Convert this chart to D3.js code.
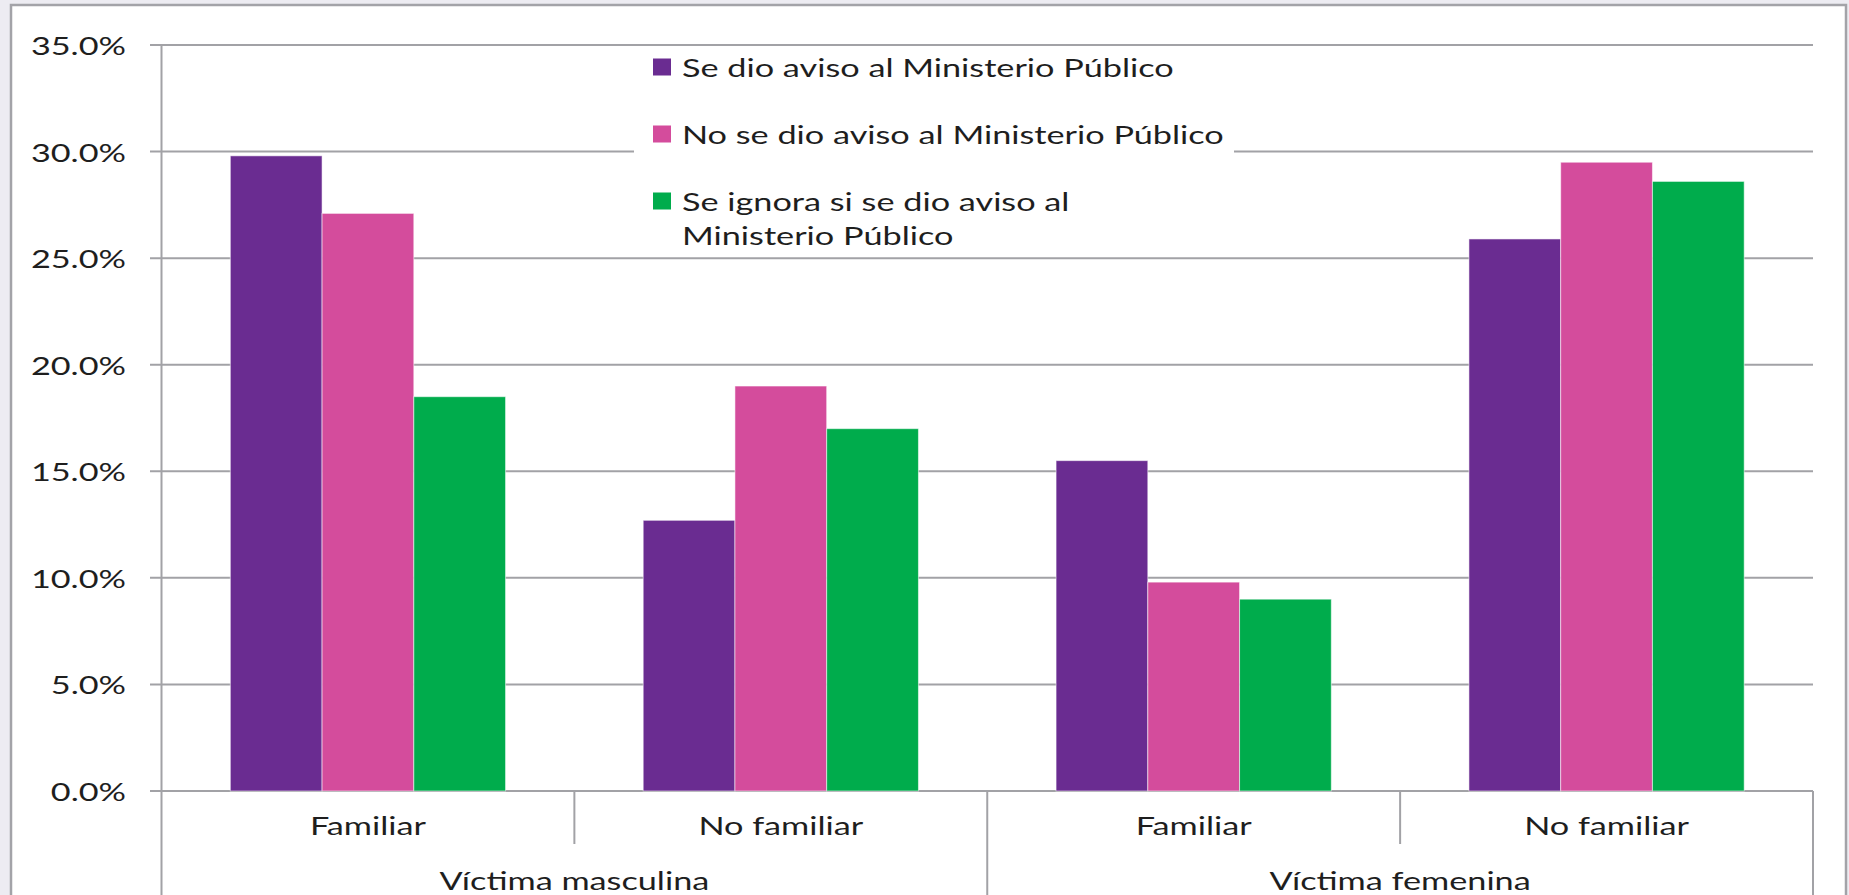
<!DOCTYPE html>
<html lang="es">
<head>
<meta charset="UTF-8">
<title>Aviso al Ministerio Público</title>
<script src="https://d3js.org/d3.v7.min.js"></script>
<style>
  body { margin: 0; background: #edecf2; }
  svg { display: block; }
  text { font-family: Lato, "Open Sans", sans-serif; fill: #1e1e1e; }
</style>
</head>
<body>
<svg id="chart" width="1849" height="895"></svg>
<script>
// datos (%)
const categorias = ["Familiar", "No familiar", "Familiar", "No familiar"];
const grupos = ["Víctima masculina", "Víctima femenina"];
const series = ["Se dio aviso al Ministerio Público",
                "No se dio aviso al Ministerio Público",
                "Se ignora si se dio aviso al Ministerio Público"];
const leyendaLineas = [["Se dio aviso al Ministerio Público"],
                       ["No se dio aviso al Ministerio Público"],
                       ["Se ignora si se dio aviso al", "Ministerio Público"]];
const conAviso = [29.8, 12.7, 15.5, 25.9];
const sinAviso = [27.1, 19.0, 9.8, 29.5];
const seIgnora = [18.5, 17.0, 9.0, 28.6];
const yTicks = [0, 5, 10, 15, 20, 25, 30, 35];
const colores = ["#6a2c91", "#d44c9c", "#00ac4c"];

const valores = [conAviso, sinAviso, seIgnora];

const W = 1849, H = 895;
const plotLeft = 161.5, plotRight = 1813, plotTop = 45, plotBase = 791;
const SX = 1.37;   // el texto original está estirado en horizontal
const FS = 25;

const svg = d3.select("#chart");

// marco blanco
svg.append("rect").attr("x", 11).attr("y", 5).attr("width", 1835).attr("height", H + 10)
  .attr("fill", "#fff").attr("stroke", "#a3a3a8").attr("stroke-width", 2.5);

const y = d3.scaleLinear().domain([0, 35]).range([plotBase, plotTop]);
const x0 = d3.scaleBand().domain(d3.range(categorias.length)).range([plotLeft, plotRight]);
const x1 = d3.scaleBand().domain(d3.range(series.length))
  .range([0, x0.bandwidth()]).paddingOuter(0.75);

function stretched(g, tx, ty, txt, anchor) {
  return g.append("text")
    .attr("transform", `translate(${tx},${ty}) scale(${SX},1)`)
    .attr("text-anchor", anchor || "middle")
    .attr("dominant-baseline", "central")
    .style("font-size", FS + "px")
    .text(txt);
}

// líneas de cuadrícula
const grid = svg.append("g");
grid.selectAll("line").data(yTicks).join("line")
  .attr("x1", 150).attr("x2", plotRight)
  .attr("y1", d => y(d)).attr("y2", d => y(d))
  .attr("stroke", "#a2a2a6").attr("stroke-width", 2);

const yLab = svg.append("g");
yTicks.forEach(t => stretched(yLab, 126, y(t), d3.format(".1f")(t) + "%", "end"));

// leyenda (con fondo blanco sobre la cuadrícula)
const leg = svg.append("g");
leg.append("rect").attr("x", 634).attr("y", 50).attr("width", 600).attr("height", 200).attr("fill", "#fff");
leyendaLineas.forEach((lines, i) => {
  const cy = 67 + i * 67;
  leg.append("rect").attr("x", 653).attr("y", cy - 8.5).attr("width", 18).attr("height", 17)
    .attr("fill", colores[i]);
  lines.forEach((l, j) => stretched(leg, 682, cy + j * 34, l, "start"));
});

// barras
const bars = svg.append("g");
categorias.forEach((c, ci) => {
  bars.selectAll(null).data(valores.map(v => v[ci])).join("rect")
    .attr("x", (d, si) => x0(ci) + x1(si))
    .attr("width", x1.bandwidth())
    .attr("y", d => y(d))
    .attr("height", d => plotBase - y(d))
    .attr("fill", (d, si) => colores[si])
    .attr("stroke", "#ffffff").attr("stroke-opacity", 0.55).attr("stroke-width", 1);
});

// eje x y separadores
const ax = svg.append("g").attr("stroke", "#a2a2a6").attr("stroke-width", 2);
ax.append("line").attr("x1", plotLeft).attr("x2", plotLeft).attr("y1", plotTop).attr("y2", H);
d3.range(categorias.length).forEach(i => {
  const xe = x0(i) + x0.bandwidth();
  ax.append("line").attr("x1", xe).attr("x2", xe).attr("y1", plotBase)
    .attr("y2", i % 2 === 1 ? H : 844);
});

const xLab = svg.append("g");
categorias.forEach((c, i) => stretched(xLab, x0(i) + x0.bandwidth() / 2, 825, c));
grupos.forEach((g, i) => stretched(xLab, x0(i * 2) + x0.bandwidth(), 880, g));
</script>
</body>
</html>
